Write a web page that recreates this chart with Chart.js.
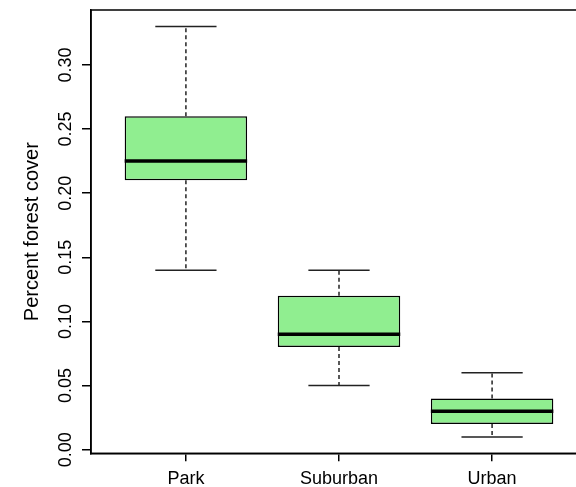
<!DOCTYPE html>
<html>
<head>
<meta charset="utf-8">
<script src="https://cdn.jsdelivr.net/npm/chart.js@4"></script>
<style>
  html, body { margin: 0; padding: 0; background: #fff; overflow: hidden; }
  #wrap { width: 600px; height: 487px; }
</style>
</head>
<body>
<div id="wrap"><canvas id="boxChart" width="600" height="487"></canvas></div>
<script>
// Box plot summary for each site type
const categories = ['Park', 'Suburban', 'Urban'];
const positions = [1, 2, 3];
const whiskerLow = [0.14, 0.05, 0.01];
const quartile1 = [0.21, 0.08, 0.02];
const medians = [0.225, 0.09, 0.03];
const quartile3 = [0.26, 0.12, 0.04];
const whiskerHigh = [0.33, 0.14, 0.06];
const yTicks = [0, 0.05, 0.10, 0.15, 0.20, 0.25, 0.30];

// R pads the axis ranges by 4%
const yLo = Math.min(...whiskerLow), yHi = Math.max(...whiskerHigh);
const yPad = (yHi - yLo) * 0.04;
const xPad = (positions.length) * 0.04;

// whiskers (dashed), caps and medians as broken lines, null breaks the segments
const whiskerPts = [], capPts = [], medianPts = [];
positions.forEach((p, i) => {
    whiskerPts.push({x: p, y: quartile3[i]}, {x: p, y: whiskerHigh[i]}, {x: p, y: null});
    whiskerPts.push({x: p, y: quartile1[i]}, {x: p, y: whiskerLow[i]}, {x: p, y: null});
    capPts.push({x: p - 0.2, y: whiskerHigh[i]}, {x: p + 0.2, y: whiskerHigh[i]}, {x: p, y: null});
    capPts.push({x: p - 0.2, y: whiskerLow[i]}, {x: p + 0.2, y: whiskerLow[i]}, {x: p, y: null});
    medianPts.push({x: p - 0.4, y: medians[i]}, {x: p + 0.4, y: medians[i]}, {x: p, y: null});
});

// frame around the plot region, like R's box()
const framePlugin = {
    id: 'frame',
    afterDatasetsDraw(chart) {
        const a = chart.chartArea;
        const ctx = chart.ctx;
        ctx.save();
        ctx.strokeStyle = '#000';
        ctx.lineWidth = 1.5;
        ctx.strokeRect(a.left, a.top, a.right - a.left, a.bottom - a.top);
        ctx.restore();
    }
};

Chart.defaults.font.family = '"Liberation Sans", Arial, Helvetica, sans-serif';
Chart.defaults.color = '#000';

const ctx = document.getElementById('boxChart').getContext('2d');
const boxChart = new Chart(ctx, {
    type: 'bar',
    data: {
        datasets: [
            {
                type: 'line',
                data: medianPts,
                borderColor: '#000',
                borderWidth: 3.5,
                pointRadius: 0,
                spanGaps: false,
                order: 0
            },
            {
                type: 'line',
                data: capPts,
                borderColor: '#222',
                borderWidth: 1.5,
                pointRadius: 0,
                spanGaps: false,
                order: 1
            },
            {
                type: 'line',
                data: whiskerPts,
                borderColor: '#222',
                borderWidth: 1.5,
                borderDash: [4, 3],
                pointRadius: 0,
                spanGaps: false,
                order: 2
            },
            {
                type: 'bar',
                data: positions.map((p, i) => ({x: p, y: [quartile1[i], quartile3[i]]})),
                backgroundColor: '#90EE90',
                borderColor: '#000',
                borderWidth: 1.5,
                borderSkipped: false,
                categoryPercentage: 1,
                barPercentage: 0.8,
                order: 3
            }
        ]
    },
    options: {
        responsive: false,
        animation: false,
        layout: { padding: { left: 0, right: 13, top: 10, bottom: 0 } },
        plugins: {
            legend: { display: false },
            tooltip: { enabled: false }
        },
        scales: {
            x: {
                type: 'linear',
                offset: false,
                min: 0.5 - xPad,
                max: positions.length + 0.5 + xPad,
                afterBuildTicks: (scale) => { scale.ticks = positions.map(v => ({value: v})); },
                afterFit: (scale) => { scale.height = 33.7; },
                ticks: {
                    autoSkip: false,
                    maxRotation: 0,
                    padding: 7,
                    font: { size: 18 },
                    callback: (v) => categories[positions.indexOf(v)]
                },
                grid: { offset: false, drawOnChartArea: false, tickLength: 8, color: '#000', lineWidth: 1.5 },
                border: { color: '#000', width: 1.5 }
            },
            y: {
                min: yLo - yPad,
                max: yHi + yPad,
                afterBuildTicks: (scale) => { scale.ticks = yTicks.map(v => ({value: v})); },
                afterFit: (scale) => { scale.width = 91; },
                ticks: {
                    minRotation: 90,
                    maxRotation: 90,
                    crossAlign: 'center',
                    padding: -2,
                    font: { size: 18 },
                    callback: (v) => v.toFixed(2)
                },
                title: {
                    display: true,
                    text: 'Percent forest cover',
                    font: { size: 20 },
                    padding: { top: 20, bottom: 0 }
                },
                grid: { drawOnChartArea: false, tickLength: 9, color: '#000', lineWidth: 1.5 },
                border: { color: '#000', width: 1.5 }
            }
        }
    },
    plugins: [framePlugin]
});
</script>
</body>
</html>
